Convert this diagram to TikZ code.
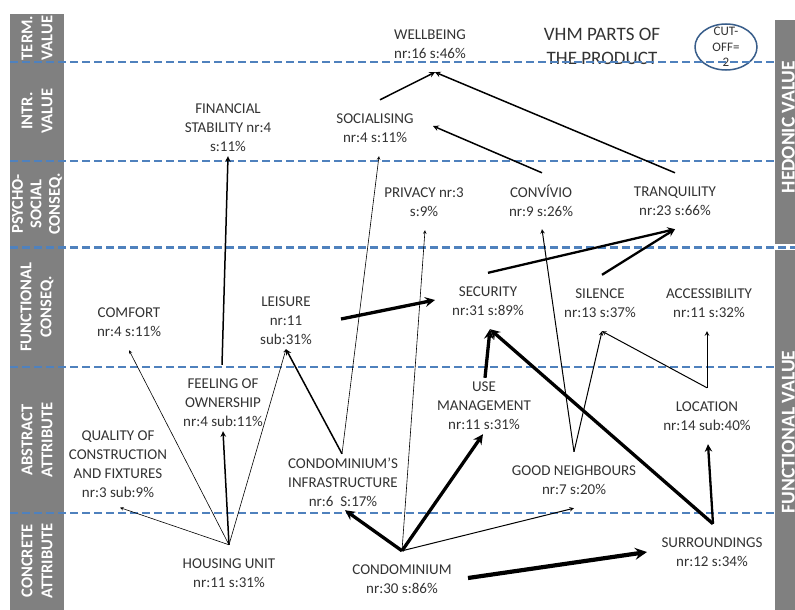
\documentclass[tikz,border=0pt]{standalone}
\usepackage{fontspec}
\setmainfont{Carlito}
\usepackage{tikz}
\usetikzlibrary{shapes.geometric, arrows, positioning}
\definecolor{levelblue}{RGB}{79,129,189}
\definecolor{ringblue}{RGB}{56,93,138}
\tikzstyle{thinarrow}  = [->,>=stealth, line width=0.6pt]
\tikzstyle{arrow}      = [->,>=stealth, line width=1.0pt]
\tikzstyle{midarrow}   = [->,>=stealth, line width=1.5pt]
\tikzstyle{boldarrow}  = [->,>=stealth, line width=2.3pt]
\tikzstyle{heavyarrow} = [->,>=stealth, line width=3.3pt]
\tikzstyle{lbl}     = [text=black!80, font=\fontsize{15}{19}\selectfont, minimum height=56pt, inner sep=2pt]
\tikzstyle{bandtxt} = [rotate=90, text=white, font=\bfseries\fontsize{16.5}{20}\selectfont]
\tikzstyle{sidetxt} = [rotate=90, anchor=base, text=white, font=\bfseries\fontsize{19.5}{22}\selectfont]
\tikzstyle{divider} = [levelblue, line width=1.5pt, dash pattern=on 8pt off 4pt]
\tikzset{every node/.style={align=center}}

\begin{document}
\begin{tikzpicture}[x=1pt, y=-1pt, node distance=100pt]
    \fill [white] (0,0) rectangle (795,610);
    \useasboundingbox (0,0) rectangle (795,610);

    % level bars
    \fill [gray] (10,14) rectangle (64,610);
    \fill [gray] (775,20) rectangle (795,244);
    \fill [gray] (775,250) rectangle (795,610);
    \node (term)  [bandtxt] at (37,38)  {TERM.\\VALUE};
    \node (intr)  [bandtxt] at (37,111) {INTR.\\VALUE};
    \node (psych) [bandtxt, font=\bfseries\fontsize{16.5}{18.5}\selectfont] at (37,204) {PSYCHO-\\SOCIAL\\CONSEQ.};
    \node (func)  [bandtxt] at (37,307) {FUNCTIONAL\\CONSEQ.};
    \node (abstr) [bandtxt] at (37,440) {ABSTRACT\\ATTRIBUTE};
    \node (concr) [bandtxt] at (37,561) {CONCRETE\\ATTRIBUTE};
    \node (hedonic)    [sidetxt] at (794.5,127) {HEDONIC VALUE};
    \node (functional) [sidetxt] at (794.5,432) {FUNCTIONAL VALUE};

    % terminal / instrumental values
    \node (wellbeing)   [lbl] at (430,44) {WELLBEING\\nr:16 s:46\%};
    \node (title)       [lbl, font=\fontsize{19}{24}\selectfont, right of=wellbeing, xshift=72pt, yshift=-2pt] {VHM PARTS OF\\THE PRODUCT};
    \node (cutoff)      [ellipse, draw=ringblue, line width=1.5pt, minimum width=62pt, minimum height=46pt, inner sep=-6pt,
                         text=black!80, font=\fontsize{13}{15.5}\selectfont, right of=title, xshift=24pt, yshift=-1pt] {CUT-\\OFF=\\2};
    \node (financial)   [lbl] at (228,128) {FINANCIAL\\STABILITY nr:4\\s:11\%};
    \node (socialising) [lbl, right of=financial, xshift=47pt] {SOCIALISING\\nr:4 s:11\%};

    % consequences
    \node (privacy)     [lbl] at (424,202) {PRIVACY nr:3\\s:9\%};
    \node (convivio)    [lbl, right of=privacy, xshift=17pt, yshift=1pt] {CONVÍVIO\\nr:9 s:26\%};
    \node (tranquility) [lbl, right of=convivio, xshift=34pt] {TRANQUILITY\\nr:23 s:66\%};
    \node (comfort)     [lbl] at (129,322) {COMFORT\\nr:4 s:11\%};
    \node (leisure)     [lbl, right of=comfort, xshift=57pt, yshift=1pt] {LEISURE\\nr:11\\sub:31\%};
    \node (security)    [lbl, right of=leisure, xshift=102pt, yshift=20pt] {SECURITY\\nr:31 s:89\%};
    \node (silence)     [lbl, right of=security, xshift=12pt, yshift=-2pt] {SILENCE\\nr:13 s:37\%};
    \node (access)      [lbl, right of=silence, xshift=9pt] {ACCESSIBILITY\\nr:11 s:32\%};

    % attributes
    \node (quality)   [lbl] at (118,464) {QUALITY OF\\CONSTRUCTION\\AND FIXTURES\\nr:3 sub:9\%};
    \node (ownership) [lbl, right of=quality, xshift=5pt, yshift=61pt] {FEELING OF\\OWNERSHIP\\nr:4 sub:11\%};
    \node (infra)     [lbl, right of=ownership, xshift=20pt, yshift=-79pt] {CONDOMINIUM’S\\INFRASTRUCTURE\\nr:6~~S:17\%};
    \node (usemgmt)   [lbl, right of=infra, xshift=41pt, yshift=76pt] {USE\\MANAGEMENT\\nr:11 s:31\%};
    \node (goodneigh) [lbl, right of=usemgmt, xshift=-10pt, yshift=-74pt] {GOOD NEIGHBOURS\\nr:7 s:20\%};
    \node (location)  [lbl, right of=goodneigh, xshift=33pt, yshift=64pt] {LOCATION\\nr:14 sub:40\%};
    \node (housing)   [lbl] at (229,573) {HOUSING UNIT\\nr:11 s:31\%};
    \node (condo)     [lbl, right of=housing, xshift=73pt, yshift=-6pt] {CONDOMINIUM\\nr:30 s:86\%};
    \node (surround)  [lbl, right of=condo, xshift=210pt, yshift=27pt] {SURROUNDINGS\\nr:12 s:34\%};

    % level borders
    \draw [divider] (10,62)  -- (775,62);
    \draw [divider] (10,161) -- (775,161);
    \draw [divider, line width=3pt] (10,247) -- (795,247);
    \draw [divider] (10,367) -- (775,367);
    \draw [divider] (10,513) -- (775,513);

    % links
    \draw [thinarrow]  (housing.north) -- ([xshift=2pt,yshift=-8pt]quality.south);
    \draw [thinarrow]  (housing.north) -- (comfort.south);
    \draw [midarrow]   (housing.north) -- (ownership.south);
    \draw [thinarrow]  (housing.north) -- (leisure.south);
    \draw [heavyarrow] (condo.north) -- ([xshift=2pt]infra.south);
    \draw [heavyarrow] (condo.north) -- ([xshift=-1pt]usemgmt.south);
    \draw [arrow]      (condo.north) -- (goodneigh.south);
    \draw [thinarrow]  (condo.north) -- ([xshift=1pt]privacy.south);
    \draw [heavyarrow, line width=4.2pt] ([xshift=66pt,yshift=1pt]condo.center) -- ([xshift=-65pt]surround.center);
    \draw [heavyarrow] ([xshift=1pt]surround.north) -- ([xshift=2pt]security.south);
    \draw [boldarrow]  ([xshift=1pt]surround.north) -- ([xshift=1pt]location.south);
    \draw [arrow]      (location.north) -- ([xshift=2pt]silence.south);
    \draw [arrow]      (location.north) -- ([xshift=-2pt]access.south);
    \draw [arrow]      (goodneigh.north) -- ([xshift=2pt]silence.south);
    \draw [arrow]      (goodneigh.north) -- ([xshift=1pt]convivio.south);
    \draw [heavyarrow] ([xshift=1pt]usemgmt.north) -- ([xshift=2pt]security.south);
    \draw [midarrow]   ([xshift=-1pt]infra.north) -- (leisure.south);
    \draw [thinarrow]  ([xshift=-1pt]infra.north) -- ([xshift=4pt]socialising.south);
    \draw [midarrow]   ([xshift=-1pt,yshift=10pt]ownership.north) -- (financial.south);
    \draw [heavyarrow] ([xshift=55pt,yshift=2pt]leisure.center) -- ([xshift=-53pt,yshift=1pt]security.center);
    \draw [boldarrow]  (security.north) -- (tranquility.south);
    \draw [boldarrow]  ([xshift=2pt]silence.north) -- (tranquility.south);
    \draw [midarrow]   ([xshift=1pt]convivio.north) -- ([xshift=58pt,yshift=2pt]socialising.center);
    \draw [midarrow]   (tranquility.north) -- ([xshift=5pt]wellbeing.south);
    \draw [midarrow]   ([xshift=5pt]socialising.north) -- ([xshift=5pt]wellbeing.south);
\end{tikzpicture}
\end{document}
